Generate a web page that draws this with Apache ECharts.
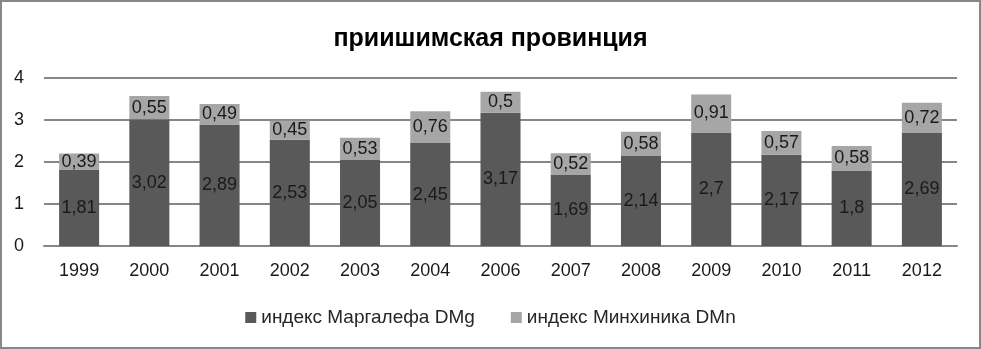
<!DOCTYPE html>
<html>
<head>
<meta charset="utf-8">
<script src="https://cdn.jsdelivr.net/npm/echarts@6/dist/echarts.min.js"></script>
<style>
  html, body { margin: 0; padding: 0; background: #fff; }
  #chart { width: 981px; height: 349px; box-sizing: border-box; border: 2px solid #878787; }
</style>
</head>
<body>
<div id="chart"></div>
<script>
const years = ["1999", "2000", "2001", "2002", "2003", "2004", "2006", "2007", "2008", "2009", "2010", "2011", "2012"];
const margalef = [1.81, 3.02, 2.89, 2.53, 2.05, 2.45, 3.17, 1.69, 2.14, 2.7, 2.17, 1.8, 2.69];
const menhinick = [0.39, 0.55, 0.49, 0.45, 0.53, 0.76, 0.5, 0.52, 0.58, 0.91, 0.57, 0.58, 0.72];
const yTicks = [0, 1, 2, 3, 4];

const fontFamily = "'Liberation Sans', 'DejaVu Sans', sans-serif";
const commaFmt = (p) => String(p.value).replace(".", ",");

const chart = echarts.init(document.getElementById("chart"));

const labelStyle = {
  show: true,
  position: "inside",
  formatter: commaFmt,
  color: "#1a1a1a",
  fontSize: 18,
  fontFamily,
};

chart.setOption({
  animation: false,
  title: {
    text: "приишимская провинция",
    left: "center",
    top: 20,
    textStyle: { fontSize: 25, fontWeight: "bold", color: "#000", fontFamily },
  },
  grid: { left: 42, right: 22, top: 76, bottom: 101 },
  legend: {
    bottom: 15,
    left: "center",
    itemWidth: 11,
    itemHeight: 11,
    itemGap: 36,
    icon: "rect",
    textStyle: { fontSize: 19, color: "#262626", fontFamily },
  },
  xAxis: {
    type: "category",
    data: years,
    axisTick: { show: false },
    axisLine: { lineStyle: { color: "#868686", width: 2 } },
    axisLabel: { margin: 16, fontSize: 18, color: "#1a1a1a", fontFamily },
  },
  yAxis: {
    type: "value",
    min: yTicks[0],
    max: yTicks[yTicks.length - 1],
    interval: 1,
    axisLine: { show: false },
    axisTick: { show: false },
    splitLine: { lineStyle: { color: "#868686", width: 2 } },
    axisLabel: { margin: 20, fontSize: 18, color: "#1a1a1a", fontFamily },
  },
  series: [
    {
      name: "индекс Маргалефа DMg",
      type: "bar",
      stack: "total",
      barWidth: "57%",
      data: margalef,
      itemStyle: { color: "#595959" },
      label: labelStyle,
    },
    {
      name: "индекс Минхиника DMn",
      type: "bar",
      stack: "total",
      barWidth: "57%",
      data: menhinick,
      itemStyle: { color: "#a6a6a6" },
      label: labelStyle,
    },
  ],
});
</script>
</body>
</html>
